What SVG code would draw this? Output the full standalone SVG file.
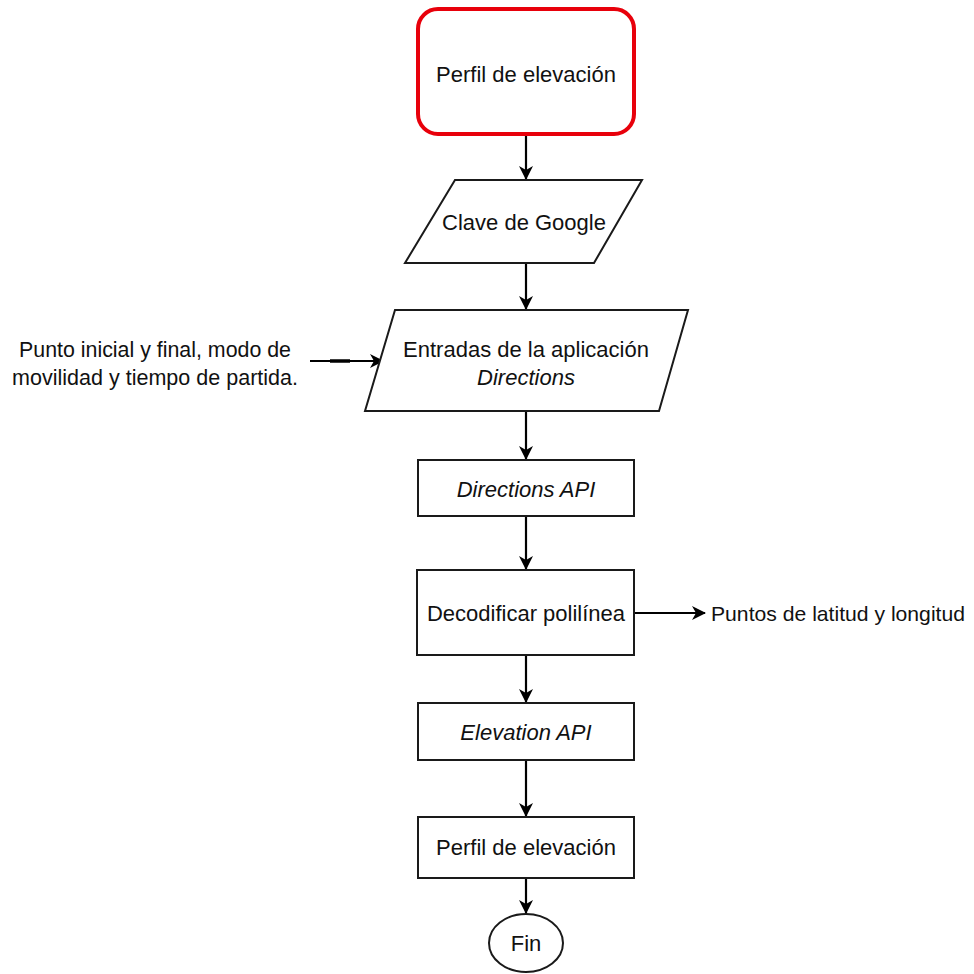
<svg xmlns="http://www.w3.org/2000/svg" width="974" height="974" viewBox="0 0 974 974">
  <defs>
    <marker id="arrow" viewBox="0 0 14 14" refX="13" refY="7" markerWidth="14" markerHeight="14" markerUnits="userSpaceOnUse" orient="auto">
      <path d="M0,0 L14,7 L0,14 L4,7 Z" fill="#000"/>
    </marker>
  </defs>
  <style>
    .box { fill: #fff; stroke: #1a1a1a; stroke-width: 2; }
    .start { fill: #fff; stroke: #e8000b; stroke-width: 4; }
    .edge { fill: none; stroke: #000; stroke-width: 2.2; marker-end: url(#arrow); }
    text { font-family: "Liberation Sans", Arial, sans-serif; font-size: 22px; fill: #111; text-anchor: middle; }
    .it { font-style: italic; }
    .lbl { text-anchor: start; font-size: 21px; }
  </style>
  <rect width="974" height="974" fill="#fff"/>

  <g id="connectors">
    <line class="edge" x1="526" y1="134" x2="526" y2="179"/>
    <line class="edge" x1="526" y1="263" x2="526" y2="309"/>
    <line class="edge" x1="526" y1="411" x2="526" y2="459"/>
    <line class="edge" x1="526" y1="516" x2="526" y2="569"/>
    <line class="edge" x1="526" y1="655" x2="526" y2="702"/>
    <line class="edge" x1="526" y1="760" x2="526" y2="816"/>
    <line class="edge" x1="526" y1="878" x2="526" y2="913"/>
    <line class="edge" x1="310" y1="361" x2="383" y2="361"/>
    <line x1="330" y1="361" x2="350" y2="361" stroke="#000" stroke-width="3.5"/>
    <line class="edge" x1="634" y1="613" x2="705" y2="613"/>
  </g>

  <g id="start">
    <rect class="start" x="418" y="9" width="216" height="125" rx="20"/>
    <text x="526" y="82">Perfil de elevación</text>
  </g>

  <g id="clave">
    <polygon class="box" points="455,180 642,180 594,263 405,263"/>
    <text x="524" y="230">Clave de Google</text>
  </g>

  <g id="entradas">
    <polygon class="box" points="395,310 688,310 659,411 365,411"/>
    <text x="526" y="357">Entradas de la aplicación</text>
    <text class="it" x="526" y="385">Directions</text>
  </g>

  <g id="input-label">
    <text x="155" y="357" textLength="272" lengthAdjust="spacingAndGlyphs">Punto inicial y final, modo de</text>
    <text x="155" y="385" textLength="286" lengthAdjust="spacingAndGlyphs">movilidad y tiempo de partida.</text>
  </g>

  <g id="directions-api">
    <rect class="box" x="418" y="460" width="216" height="56"/>
    <text class="it" x="526" y="497">Directions API</text>
  </g>

  <g id="decodificar">
    <rect class="box" x="417" y="570" width="217" height="85"/>
    <text x="526" y="621">Decodificar polilínea</text>
  </g>

  <g id="puntos-label">
    <text class="lbl" x="711" y="621" textLength="254" lengthAdjust="spacingAndGlyphs">Puntos de latitud y longitud</text>
  </g>

  <g id="elevation-api">
    <rect class="box" x="418" y="703" width="216" height="57"/>
    <text class="it" x="526" y="740">Elevation API</text>
  </g>

  <g id="perfil">
    <rect class="box" x="418" y="817" width="216" height="61"/>
    <text x="526" y="855">Perfil de elevación</text>
  </g>

  <g id="fin">
    <ellipse class="box" cx="526" cy="943" rx="37" ry="29"/>
    <text x="526" y="951">Fin</text>
  </g>
</svg>
